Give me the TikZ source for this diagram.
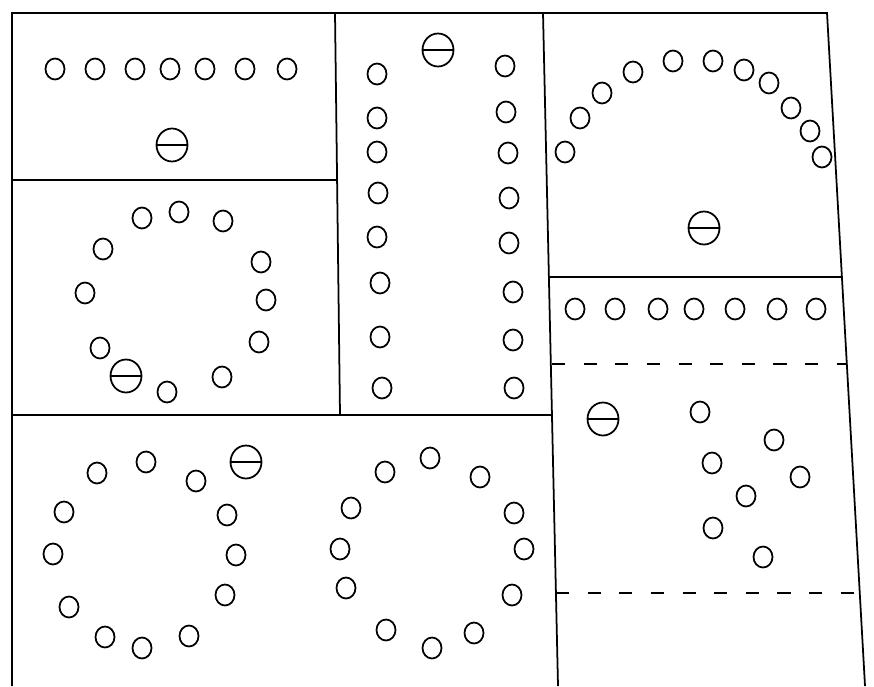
\documentclass[tikz,border=0pt]{standalone}
\usepackage{tikz}
\usetikzlibrary{shapes.geometric}

\begin{document}
\begin{tikzpicture}[x=0.02cm,y=-0.02cm,
        pupil/.style={draw,ellipse,line width=1pt,inner sep=0pt,
                      minimum width=0.38cm,minimum height=0.42cm},
        teacher/.style={draw,ellipse,line width=1pt,inner sep=0pt,
                        minimum width=0.62cm,minimum height=0.66cm,
                        path picture={\draw[line width=1pt]
                          (path picture bounding box.west) -- (path picture bounding box.east);}},
        wall/.style={line width=1pt},
        screen/.style={line width=0.9pt,dash pattern=on 7.5pt off 10.5pt}]
  \useasboundingbox (0,0) rectangle (874,686);
  % walls
  \draw[wall] (12,686) -- (12,13) -- (827,13) -- (865,686);
  \draw[wall] (335,13) -- (340,415);
  \draw[wall] (543,13) -- (558,686);
  \draw[wall] (12,180) -- (337,180);
  \draw[wall] (12,415) -- (552,415);
  \draw[wall] (548,277) -- (843,277);
  \draw[screen] (552,364) -- (847,364);
  \draw[screen] (556,593) -- (860,593);

  % top left: one row
  \foreach \x [count=\i] in {55,95,135,170,205,245,287}
    \node[pupil] (row\i) at (\x,69) {};
  \node[teacher] (tA) at (172,145) {};

  % middle: two columns
  \node[teacher] (tB) at (438,50) {};
  \foreach \x/\y [count=\i] in {377/74,377/118,377/152,378/193,377/237,380/283,380/337,382/388}
    \node[pupil] (colL\i) at (\x,\y) {};
  \foreach \x/\y [count=\i] in {505/66,506/112,508/153,509/198,509/243,513/292,513/340,514/388}
    \node[pupil] (colR\i) at (\x,\y) {};

  % top right: arc
  \foreach \x/\y [count=\i] in {565/152,580/118,602/93,633/72,673/61,713/61,744/70,769/83,791/108,810/131,822/157}
    \node[pupil] (arc\i) at (\x,\y) {};
  \node[teacher] (tC) at (704,228) {};

  % left: ring
  \foreach \x/\y [count=\i] in {142/218,179/212,223/221,103/249,261/262,85/293,266/300,100/348,259/342,222/377,167/392}
    \node[pupil] (ring\i) at (\x,\y) {};
  \node[teacher] (tD) at (126,376) {};

  % bottom: two rings
  \foreach \x/\y [count=\i] in {97/473,146/462,196/481,64/512,53/554,227/515,236/555,225/595,69/607,105/637,142/648,189/636}
    \node[pupil] (ringA\i) at (\x,\y) {};
  \node[teacher] (tE) at (246,462) {};
  \foreach \x/\y [count=\i] in {385/472,430/458,480/477,351/508,514/513,340/549,524/549,346/588,512/595,386/630,432/648,474/633}
    \node[pupil] (ringB\i) at (\x,\y) {};

  % right: row and group
  \foreach \x [count=\i] in {575,615,658,694,735,777,816}
    \node[pupil] (line\i) at (\x,309) {};
  \node[teacher] (tF) at (603,419) {};
  \foreach \x/\y [count=\i] in {700/412,774/440,712/463,800/477,746/496,713/528,763/557}
    \node[pupil] (grp\i) at (\x,\y) {};
\end{tikzpicture}
\end{document}
